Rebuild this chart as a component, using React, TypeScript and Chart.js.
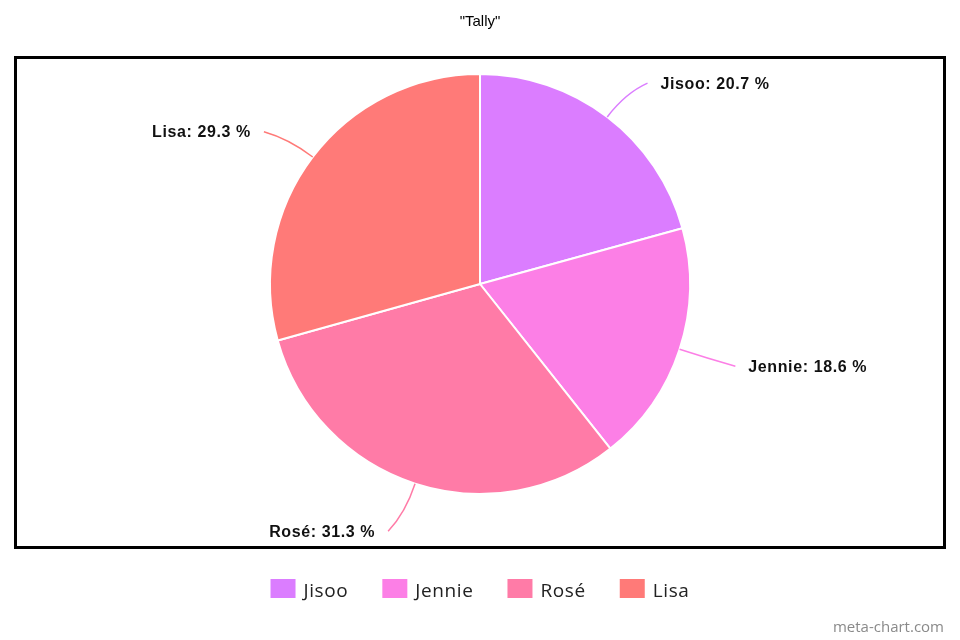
import React, { useEffect, useRef } from "react";
import { Chart, registerables } from "chart.js";

Chart.register(...registerables);

const categories = ["Jisoo", "Jennie", "Rosé", "Lisa"];
const shares = [20.7, 18.6, 31.3, 29.3];
const sliceColors = ["#DB7DFF", "#FC7FE6", "#FF7BA7", "#FF7A78"];
const chartTitle = '"Tally"';
const watermark = "meta-chart.com";

const overlay = {
  id: "overlay",
  beforeDraw(chart: any) {
    const ctx = chart.ctx;
    ctx.save();
    ctx.fillStyle = "#ffffff";
    ctx.fillRect(0, 0, chart.width, chart.height);
    ctx.restore();
  },
  afterDraw(chart: any) {
    const ctx = chart.ctx as CanvasRenderingContext2D;
    const W = chart.width;
    ctx.save();
    // frame
    ctx.lineWidth = 3;
    ctx.strokeStyle = "#000";
    ctx.strokeRect(15.5, 57.5, 929, 490);

    // title
    ctx.fillStyle = "#000";
    ctx.font = '15px "Liberation Sans", Arial, sans-serif';
    ctx.textAlign = "center";
    ctx.textBaseline = "middle";
    ctx.fillText(chartTitle, W / 2, 22);

    // slice labels with connectors
    const meta = chart.getDatasetMeta(0);
    meta.data.forEach((arc: any, i: number) => {
      const p = arc.getProps(["x", "y", "startAngle", "endAngle", "outerRadius"], true);
      const a = (p.startAngle + p.endAngle) / 2;
      const dx = Math.cos(a);
      const dy = Math.sin(a);
      const side = dx >= 0 ? 1 : -1;
      const r = p.outerRadius;
      const x0 = p.x + dx * r;
      const y0 = p.y + dy * r;
      const cx = p.x + dx * (r + 30);
      const cy = p.y + dy * (r + 30);
      const ex = p.x + dx * (r + 45) + side * 13;
      const ey = p.y + dy * (r + 45) + 2 + Math.max(0, dy) * 3;
      ctx.beginPath();
      ctx.moveTo(x0, y0);
      ctx.quadraticCurveTo(cx, cy, ex, ey);
      ctx.strokeStyle = sliceColors[i];
      ctx.lineWidth = 1.5;
      ctx.stroke();

      ctx.fillStyle = "#111";
      ctx.font = 'bold 16px "Liberation Sans", Arial, sans-serif';
      (ctx as any).letterSpacing = "0.6px";
      ctx.textAlign = side > 0 ? "left" : "right";
      ctx.textBaseline = "middle";
      ctx.fillText(`${categories[i]}: ${shares[i]} %`, ex + side * 13, ey + 1);
      (ctx as any).letterSpacing = "0px";
    });

    // legend
    ctx.font = '19px "Open Sans", sans-serif';
    (ctx as any).letterSpacing = "0.6px";
    const boxW = 25;
    const boxH = 19;
    const gapText = 8;
    const gapItem = 34;
    const widths = categories.map((c) => ctx.measureText(c).width);
    const total =
      widths.reduce((s, w) => s + boxW + gapText + w, 0) + gapItem * (categories.length - 1);
    let x = W / 2 - total / 2;
    ctx.textAlign = "left";
    ctx.textBaseline = "alphabetic";
    categories.forEach((c, i) => {
      ctx.fillStyle = sliceColors[i];
      ctx.fillRect(x, 579, boxW, boxH);
      ctx.fillStyle = "#222";
      ctx.fillText(c, x + boxW + gapText, 597);
      x += boxW + gapText + widths[i] + gapItem;
    });
    (ctx as any).letterSpacing = "0px";

    // watermark
    ctx.font = '15px "Open Sans", sans-serif';
    ctx.fillStyle = "#8a8a8a";
    ctx.textAlign = "right";
    ctx.fillText(watermark, 944, 632);
    ctx.restore();
  },
};

export default function App() {
  const ref = useRef<HTMLCanvasElement | null>(null);
  useEffect(() => {
    if (!ref.current) return;
    const chart = new Chart(ref.current, {
      type: "pie",
      data: {
        labels: categories,
        datasets: [
          {
            data: shares,
            backgroundColor: sliceColors,
            borderColor: "#ffffff",
            borderWidth: 2,
          },
        ],
      },
      options: {
        responsive: false,
        animation: false,
        devicePixelRatio: 1,
        layout: { padding: { top: 73, bottom: 145, left: 269, right: 269 } },
        plugins: {
          legend: { display: false },
          title: { display: false },
          tooltip: { enabled: false },
        },
      },
      plugins: [overlay],
    });
    return () => chart.destroy();
  }, []);
  return (
    <div style={{ position: "fixed", left: 0, top: 0, width: 960, height: 640, background: "#fff" }}>
      <canvas ref={ref} width={960} height={640} style={{ display: "block" }} />
    </div>
  );
}
